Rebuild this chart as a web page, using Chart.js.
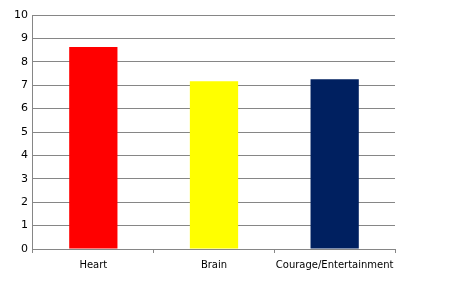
<!DOCTYPE html>
<html>
<head>
<meta charset="utf-8">
<script src="https://cdn.jsdelivr.net/npm/chart.js@4"></script>
<style>
  body { margin: 0; background: #fff; }
  #wrap { width: 453px; height: 291px; }
</style>
</head>
<body>
<div id="wrap"><canvas id="barChart"></canvas></div>
<script>
// categories and values
const categories = ['Heart', 'Brain', 'Courage/Entertainment'];
const scores = [8.63, 7.17, 7.25];
const barColors = ['#ff0000', '#ffff00', '#002060'];

const yTicks = [0, 1, 2, 3, 4, 5, 6, 7, 8, 9, 10];

const gridGray = '#868686';

new Chart(document.getElementById('barChart'), {
    type: 'bar',
    data: {
        labels: categories,
        datasets: [{
            data: scores,
            backgroundColor: barColors,
            borderWidth: 0,
            barPercentage: 0.4,
            categoryPercentage: 1
        }]
    },
    options: {
        responsive: true,
        maintainAspectRatio: false,
        animation: false,
        layout: {
            padding: { top: 15, right: 58, bottom: 14, left: 9 }
        },
        plugins: {
            legend: { display: false },
            tooltip: { enabled: false }
        },
        scales: {
            x: {
                grid: {
                    offset: true,
                    drawOnChartArea: false,
                    drawTicks: true,
                    tickLength: 4,
                    color: gridGray
                },
                border: { display: true, color: gridGray },
                ticks: {
                    color: '#000',
                    padding: 6,
                    maxRotation: 0,
                    minRotation: 0,
                    autoSkip: false,
                    font: { family: 'DejaVu Sans', size: 10 }
                }
            },
            y: {
                min: 0,
                max: 10,
                afterBuildTicks: axis => {
                    axis.ticks = yTicks.map(v => ({ value: v }));
                },
                grid: {
                    color: gridGray,
                    drawTicks: false
                },
                border: { display: true, color: gridGray },
                ticks: {
                    color: '#000',
                    padding: 5,
                    font: { family: 'DejaVu Sans', size: 11 }
                }
            }
        }
    }
});
</script>
</body>
</html>
